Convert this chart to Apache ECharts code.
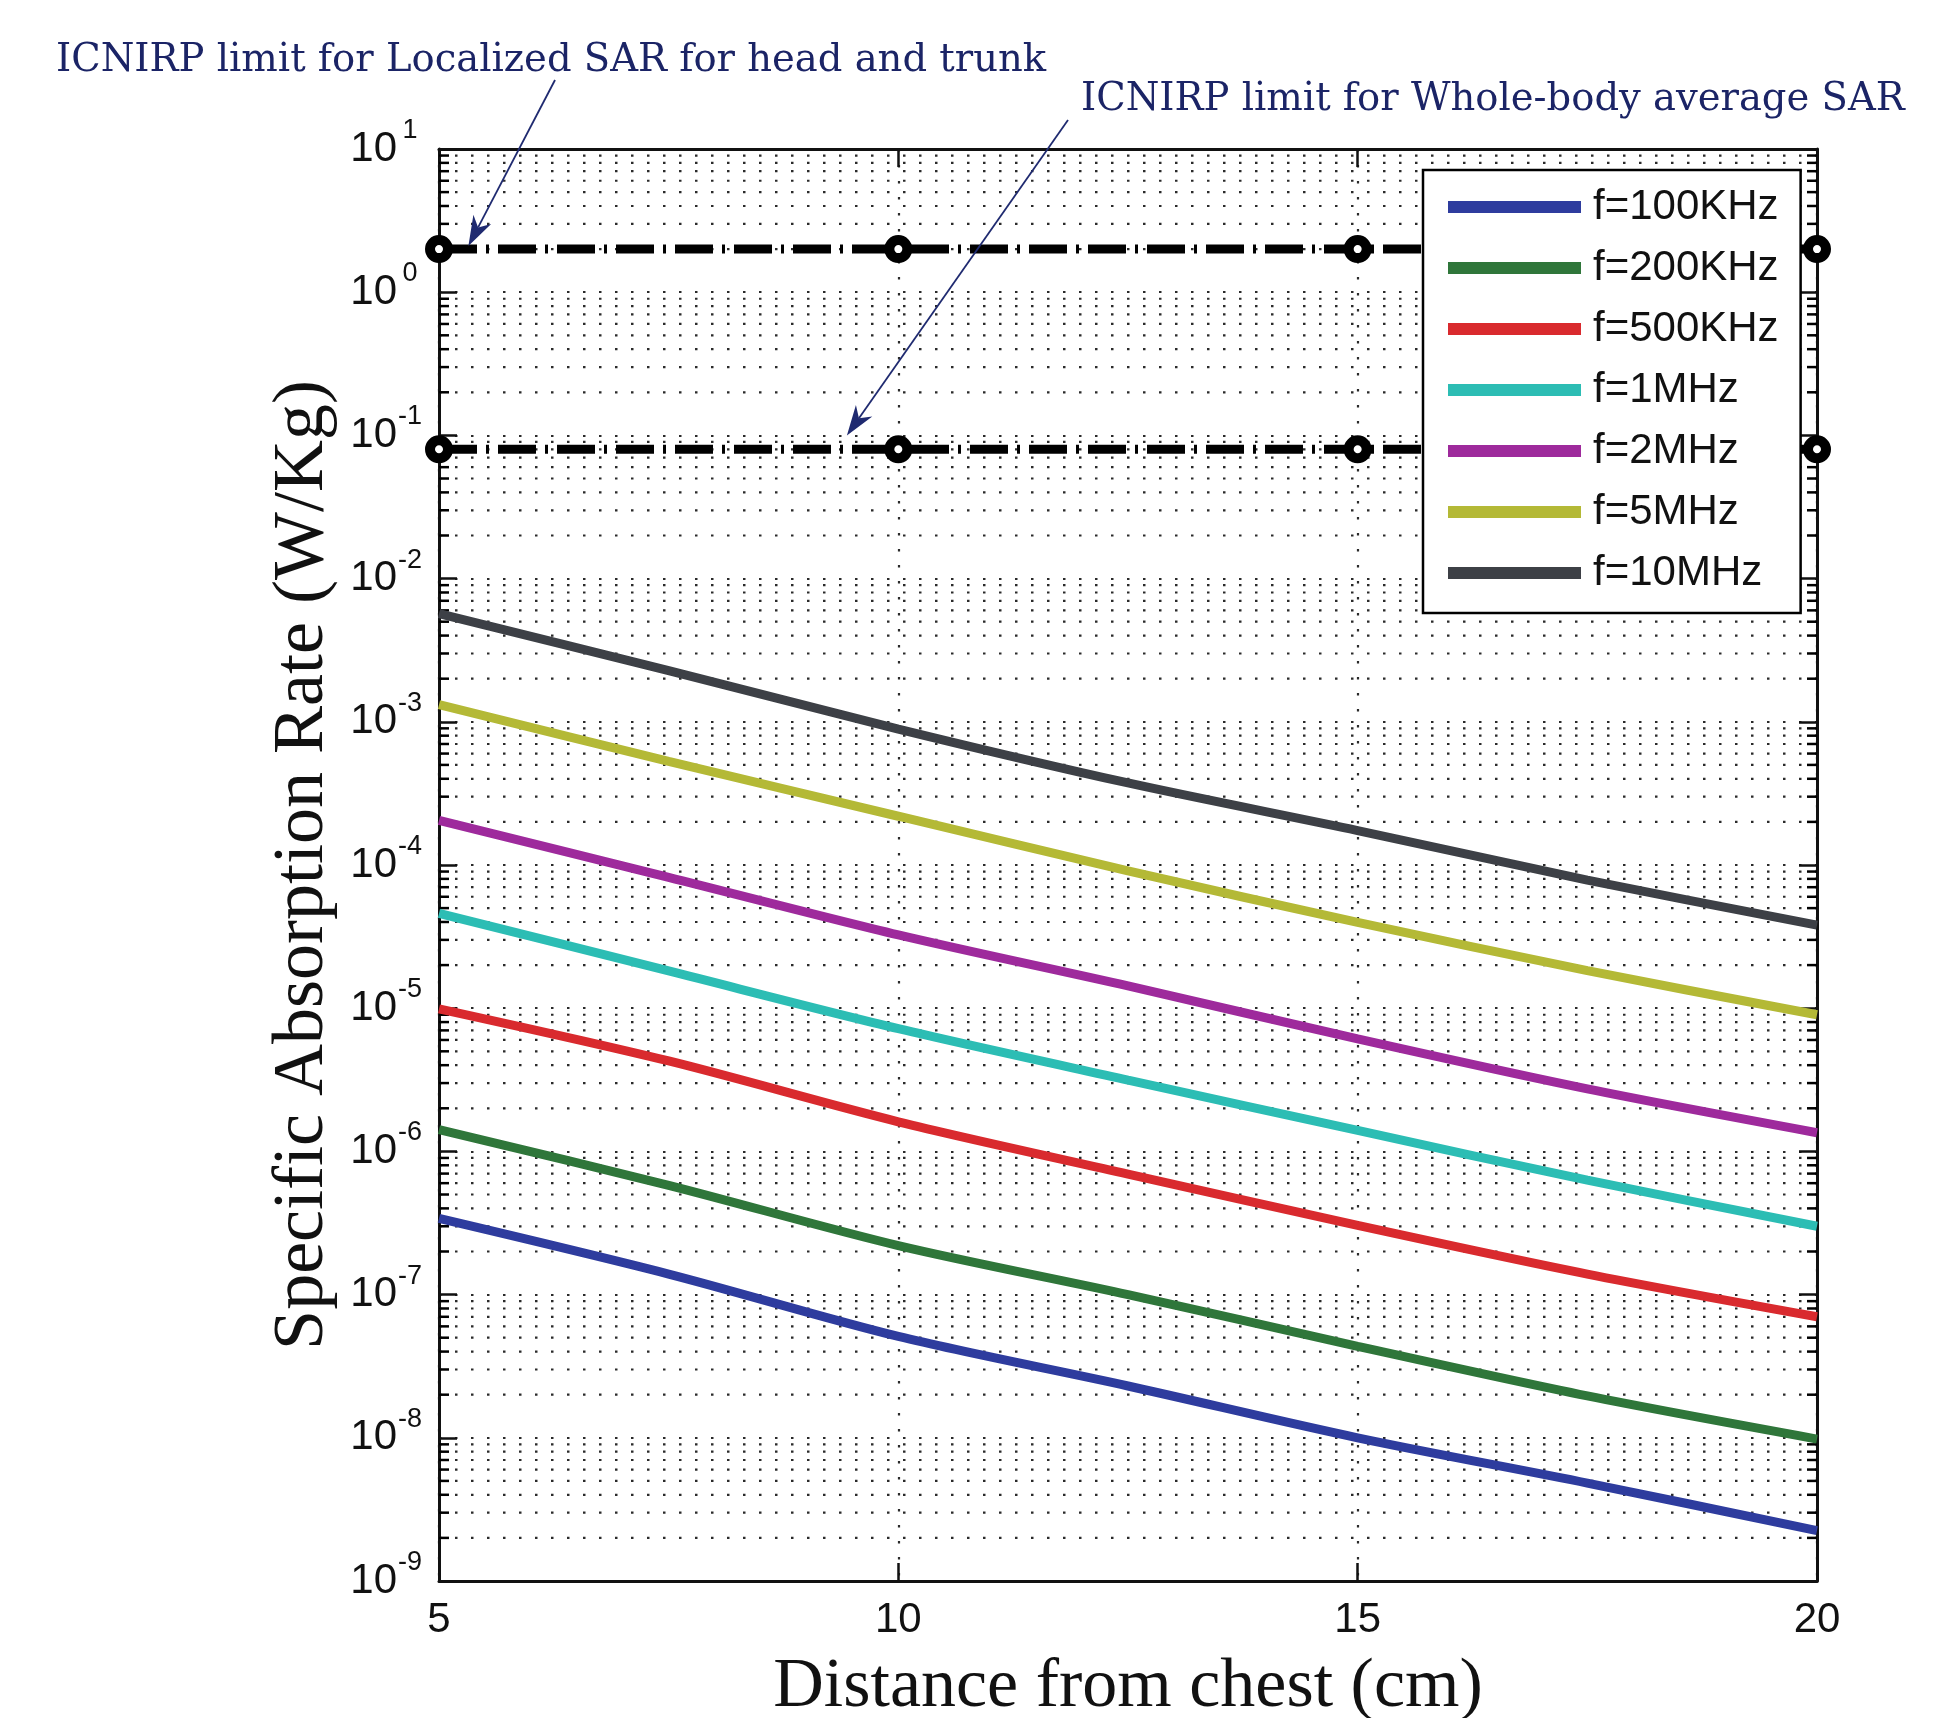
<!DOCTYPE html>
<html><head><meta charset="utf-8">
<script src="https://cdn.jsdelivr.net/npm/echarts@6/dist/echarts.min.js"></script>
<style>html,body{margin:0;padding:0;background:#fff}#c{width:1954px;height:1718px}</style>
</head><body><div id="c"></div>
<script>
// ---------- data ----------
const distanceCm = [5, 7.5, 10, 12.5, 15, 17.5, 20];
const sar100kHz = [3.4e-7, 1.39e-7, 5.1e-8, 2.3e-8, 1.0e-8, 4.83e-9, 2.25e-9];
const sar200kHz = [1.42e-6, 5.8e-7, 2.2e-7, 1.0e-7, 4.35e-8, 1.96e-8, 9.8e-9];
const sar500kHz = [9.9e-6, 4.28e-6, 1.61e-6, 6.95e-7, 3.04e-7, 1.39e-7, 7.0e-8];
const sar1MHz   = [4.6e-5, 1.82e-5, 7.2e-6, 3.15e-6, 1.4e-6, 6.3e-7, 3.0e-7];
const sar2MHz   = [2.05e-4, 8.2e-5, 3.25e-5, 1.43e-5, 6.1e-6, 2.73e-6, 1.35e-6];
const sar5MHz   = [1.32e-3, 5.3e-4, 2.19e-4, 9.1e-5, 3.97e-5, 1.83e-5, 9.0e-6];
const sar10MHz  = [5.7e-3, 2.28e-3, 8.9e-4, 3.74e-4, 1.74e-4, 7.85e-5, 3.8e-5];
const seriesNames = ['f=100KHz', 'f=200KHz', 'f=500KHz', 'f=1MHz', 'f=2MHz', 'f=5MHz', 'f=10MHz'];
const seriesValues = [sar100kHz, sar200kHz, sar500kHz, sar1MHz, sar2MHz, sar5MHz, sar10MHz];
const seriesColors = ['#2E3C9E', '#2F763A', '#D92A2E', '#2CBDB4', '#9E2A9C', '#B4B936', '#3D4046'];

const limitDistance = [5, 10, 15, 20];
const localizedLimit = [2, 2, 2, 2];             // W/Kg, head and trunk
const wholeBodyLimit = [0.08, 0.08, 0.08, 0.08]; // W/Kg, whole-body average

const decadeExponents = [-9, -8, -7, -6, -5, -4, -3, -2, -1, 0, 1];
const minorMultipliers = [2, 3, 4, 5, 6, 7, 8, 9];

const annotation1 = 'ICNIRP limit for Localized SAR for head and trunk';
const annotation2 = 'ICNIRP limit for Whole-body average SAR';
const xTitle = 'Distance from chest (cm)';
const yTitle = 'Specific Absorption Rate (W/Kg)';

// ---------- build ----------
const minorValues = [];
decadeExponents.slice(0, -1).forEach(e => minorMultipliers.forEach(m => minorValues.push(m * Math.pow(10, e))));

const chart = echarts.init(document.getElementById('c'), null, {renderer: 'canvas'});
const AXIS_COLOR = '#111';
const tickFont = 'Liberation Sans';
const DOT_COLOR = '#2a2a2a';
const dotted = {color: DOT_COLOR, width: 2.2, type: [2.5, 13.5]};

const lineSeries = seriesNames.map((n, i) => ({
  name: n, type: 'line', smooth: 0.3, symbol: 'none', z: 5,
  lineStyle: {color: seriesColors[i], width: 9},
  itemStyle: {color: seriesColors[i]},
  data: distanceCm.map((d, j) => [d, seriesValues[i][j]])
}));

function limitSeries(name, vals) {
  return {
    name, type: 'line', z: 4, clip: false, symbol: 'circle', symbolSize: 18,
    itemStyle: {color: '#fff', borderColor: '#000', borderWidth: 10},
    lineStyle: {color: '#000', width: 9, type: [38, 9, 3, 9]},
    data: limitDistance.map((d, j) => [d, vals[j]])
  };
}

const option = {
  backgroundColor: '#fff',
  animation: false,
  grid: {left: 439, top: 149, width: 1378, height: 1432, show: false, containLabel: false, outerBoundsMode: 'none'},
  legend: {
    data: seriesNames, orient: 'vertical', left: 1423, top: 170,
    icon: 'rect', itemWidth: 133, itemHeight: 12, itemGap: 19,
    padding: [16, 22, 19, 25],
    backgroundColor: '#fff', borderColor: '#000', borderWidth: 2.5,
    textStyle: {fontFamily: tickFont, fontSize: 42, lineHeight: 42, color: '#111', padding: [0, 0, 0, 7]},
    selectedMode: false, z: 10
  },
  xAxis: [{
    type: 'value', min: 5, max: 20, interval: 5,
    name: xTitle, nameLocation: 'middle', nameGap: 72,
    nameTextStyle: {fontFamily: 'Liberation Serif', fontSize: 70, color: '#111'},
    axisLine: {show: true, lineStyle: {color: AXIS_COLOR, width: 3}},
    axisTick: {show: true, inside: true, length: 18, lineStyle: {color: AXIS_COLOR, width: 2.5}},
    axisLabel: {fontFamily: tickFont, fontSize: 42, color: '#111', margin: 18},
    splitLine: {show: true, lineStyle: dotted}
  }, {
    type: 'value', min: 5, max: 20, interval: 5, position: 'top',
    axisLine: {show: true, onZero: false, lineStyle: {color: AXIS_COLOR, width: 3}},
    axisTick: {show: true, inside: true, length: 18, lineStyle: {color: AXIS_COLOR, width: 2.5}},
    axisLabel: {show: false}, splitLine: {show: false}
  }],
  yAxis: [{
    type: 'log', logBase: 10, min: 1e-9, max: 10, interval: 1,
    name: yTitle, nameLocation: 'middle', nameGap: 100, nameRotate: 90,
    nameTextStyle: {fontFamily: 'Liberation Serif', fontSize: 72, color: '#111'},
    axisLine: {show: true, lineStyle: {color: AXIS_COLOR, width: 3}},
    axisTick: {show: true, inside: true, length: 18, lineStyle: {color: AXIS_COLOR, width: 2.5}},
    axisLabel: {
      margin: 16,
      formatter: v => '{b|10}{e|' + Math.round(Math.log10(v)) + '}',
      rich: {
        b: {fontFamily: tickFont, fontSize: 42, lineHeight: 64, color: '#111'},
        e: {fontFamily: tickFont, fontSize: 27, lineHeight: 20, color: '#111', verticalAlign: 'top', width: 26, align: 'left'}
      }
    },
    splitLine: {show: true, lineStyle: dotted}
  }, {
    type: 'log', logBase: 10, min: 1e-9, max: 10, interval: 1, position: 'right',
    axisLine: {show: true, onZero: false, lineStyle: {color: AXIS_COLOR, width: 3}},
    axisTick: {show: true, inside: true, length: 18, lineStyle: {color: AXIS_COLOR, width: 2.5}},
    axisLabel: {show: false}, splitLine: {show: false}
  }],
  series: [
    {
      type: 'custom', silent: true, z: 1, clip: false,
      data: minorValues.map(v => [5, v]),
      encode: {x: 0, y: 1},
      renderItem: (params, api) => {
        const v = api.value(1);
        const a = api.coord([5, v]);
        const b = api.coord([20, v]);
        return {type: 'group', children: [
          {type: 'line', shape: {x1: a[0], y1: a[1], x2: b[0], y2: b[1]}, style: {stroke: DOT_COLOR, lineWidth: 2.2, lineDash: [2.5, 13.5]}},
          {type: 'line', shape: {x1: a[0], y1: a[1], x2: a[0] + 10, y2: a[1]}, style: {stroke: '#000', lineWidth: 2.5}},
          {type: 'line', shape: {x1: b[0] - 10, y1: b[1], x2: b[0], y2: b[1]}, style: {stroke: '#000', lineWidth: 2.5}}
        ]};
      }
    },
    limitSeries('Localized limit', localizedLimit),
    limitSeries('Whole-body limit', wholeBodyLimit),
    ...lineSeries
  ]
};
chart.setOption(option);

// ---------- annotations (arrows point at data coordinates) ----------
function arrow(start, tip, color) {
  const dx = tip[0] - start[0], dy = tip[1] - start[1];
  const len = Math.hypot(dx, dy), ux = dx / len, uy = dy / len;
  const px = -uy, py = ux, L = 30, W = 10;
  const back = [tip[0] - ux * L, tip[1] - uy * L];
  const notch = [tip[0] - ux * L * 0.7, tip[1] - uy * L * 0.7];
  return [
    {type: 'line', shape: {x1: start[0], y1: start[1], x2: notch[0], y2: notch[1]}, style: {stroke: color, lineWidth: 1.8}, z: 20},
    {type: 'polygon', shape: {points: [tip, [back[0] + px * W, back[1] + py * W], notch, [back[0] - px * W, back[1] - py * W]]}, style: {fill: color}, z: 20}
  ];
}
const finder = {xAxisIndex: 0, yAxisIndex: 0};
const tip1 = chart.convertToPixel(finder, [5.32, 2.1]);
const tip2 = chart.convertToPixel(finder, [9.44, 0.1]);
const navy = '#1F2A70';
chart.setOption({
  graphic: [
    {type: 'text', left: 56, top: 41, z: 20, style: {text: annotation1, fontFamily: 'DejaVu Serif', fontSize: 38.5, fill: '#1B2466'}},
    {type: 'text', left: 1081, top: 80, z: 20, style: {text: annotation2, fontFamily: 'DejaVu Serif', fontSize: 38.5, fill: '#1B2466'}},
    ...arrow([555, 80], tip1, navy),
    ...arrow([1068, 120], tip2, navy)
  ]
});
</script>
</body></html>
